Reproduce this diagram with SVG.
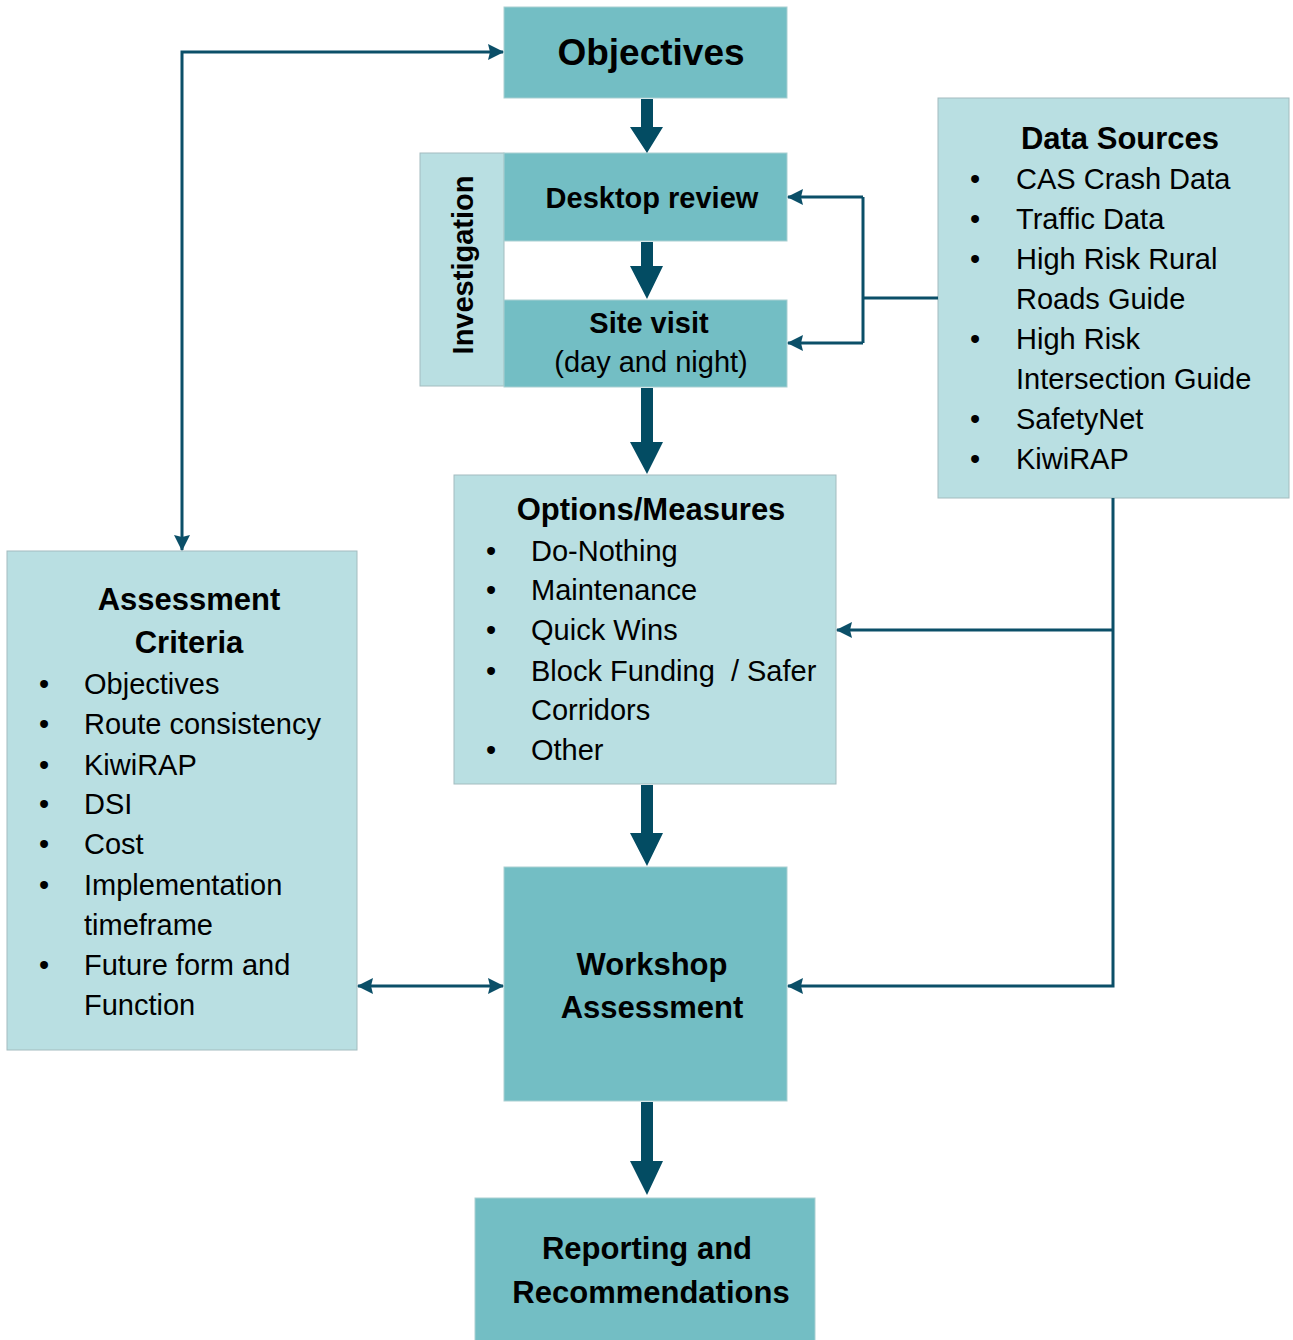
<svg xmlns="http://www.w3.org/2000/svg" width="1293" height="1340" viewBox="0 0 1293 1340">
<defs>
<style>
.dark{fill:#73bec4;stroke:#a9cfd2;stroke-width:1}
.light{fill:#b9dfe2;stroke:#a3bcbf;stroke-width:1}
text{font-family:"Liberation Sans",Arial,sans-serif;fill:#000}
.h{font-weight:bold;font-size:31px}
.hs{font-weight:bold;font-size:29px}
.t{font-size:29px}
.thin{fill:none;stroke:#0b4f68;stroke-width:3}
.thick{fill:#034c63}
</style>
<marker id="ah" viewBox="0 0 16 16" refX="15" refY="8" markerWidth="16" markerHeight="16" markerUnits="userSpaceOnUse" orient="auto-start-reverse">
<path d="M0,0 L16,8 L0,16 L2,8 Z" fill="#0b4f68"/>
</marker>
</defs>
<rect width="1293" height="1340" fill="#fff"/>

<g id="objectives">
<rect class="dark" x="504" y="7" width="283" height="91"/>
<text class="h" x="651" y="65" text-anchor="middle" style="font-size:37px">Objectives</text>
</g>

<g id="investigation">
<rect class="light" x="420" y="153" width="84" height="233"/>
<text class="hs" transform="translate(473,265) rotate(-90)" text-anchor="middle">Investigation</text>
</g>

<g id="desktop-review">
<rect class="dark" x="504" y="153" width="283" height="88"/>
<text class="hs" x="652" y="208" text-anchor="middle">Desktop review</text>
</g>

<g id="site-visit">
<rect class="dark" x="504" y="300" width="283" height="87"/>
<text class="hs" x="649" y="333" text-anchor="middle">Site visit</text>
<text class="t" x="651" y="372" text-anchor="middle">(day and night)</text>
</g>

<g id="data-sources">
<rect class="light" x="938" y="98" width="351" height="400"/>
<text class="h" x="1120" y="149" text-anchor="middle">Data Sources</text>
<text x="975" y="189" text-anchor="middle" class="t">•</text><text x="1016" y="189" class="t">CAS Crash Data</text>
<text x="975" y="229" text-anchor="middle" class="t">•</text><text x="1016" y="229" class="t">Traffic Data</text>
<text x="975" y="269" text-anchor="middle" class="t">•</text><text x="1016" y="269" class="t">High Risk Rural</text>
<text x="1016" y="309" class="t">Roads Guide</text>
<text x="975" y="349" text-anchor="middle" class="t">•</text><text x="1016" y="349" class="t">High Risk</text>
<text x="1016" y="389" class="t">Intersection Guide</text>
<text x="975" y="429" text-anchor="middle" class="t">•</text><text x="1016" y="429" class="t">SafetyNet</text>
<text x="975" y="469" text-anchor="middle" class="t">•</text><text x="1016" y="469" class="t">KiwiRAP</text>
</g>

<g id="options-measures">
<rect class="light" x="454" y="475" width="382" height="309"/>
<text class="h" x="651" y="520" text-anchor="middle">Options/Measures</text>
<text x="491" y="561" text-anchor="middle" class="t">•</text><text x="531" y="561" class="t">Do-Nothing</text>
<text x="491" y="600" text-anchor="middle" class="t">•</text><text x="531" y="600" class="t">Maintenance</text>
<text x="491" y="640" text-anchor="middle" class="t">•</text><text x="531" y="640" class="t">Quick Wins</text>
<text x="491" y="681" text-anchor="middle" class="t">•</text><text x="531" y="681" class="t" xml:space="preserve">Block Funding  / Safer</text>
<text x="531" y="720" class="t">Corridors</text>
<text x="491" y="760" text-anchor="middle" class="t">•</text><text x="531" y="760" class="t">Other</text>
</g>

<g id="assessment-criteria">
<rect class="light" x="7" y="551" width="350" height="499"/>
<text class="h" x="189" y="610" text-anchor="middle">Assessment</text>
<text class="h" x="189" y="653" text-anchor="middle">Criteria</text>
<text x="44" y="694" text-anchor="middle" class="t">•</text><text x="84" y="694" class="t">Objectives</text>
<text x="44" y="734" text-anchor="middle" class="t">•</text><text x="84" y="734" class="t">Route consistency</text>
<text x="44" y="775" text-anchor="middle" class="t">•</text><text x="84" y="775" class="t">KiwiRAP</text>
<text x="44" y="814" text-anchor="middle" class="t">•</text><text x="84" y="814" class="t">DSI</text>
<text x="44" y="854" text-anchor="middle" class="t">•</text><text x="84" y="854" class="t">Cost</text>
<text x="44" y="895" text-anchor="middle" class="t">•</text><text x="84" y="895" class="t">Implementation</text>
<text x="84" y="935" class="t">timeframe</text>
<text x="44" y="975" text-anchor="middle" class="t">•</text><text x="84" y="975" class="t">Future form and</text>
<text x="84" y="1015" class="t">Function</text>
</g>

<g id="workshop-assessment">
<rect class="dark" x="504" y="867" width="283" height="234"/>
<text class="h" x="652" y="975" text-anchor="middle">Workshop</text>
<text class="h" x="652" y="1018" text-anchor="middle">Assessment</text>
</g>

<g id="reporting">
<rect class="dark" x="475" y="1198" width="340" height="150"/>
<text class="h" x="647" y="1259" text-anchor="middle">Reporting and</text>
<text class="h" x="651" y="1303" text-anchor="middle">Recommendations</text>
</g>

<g id="connectors">
<path class="thick" d="M641,99 H653 V127 H663 L647,153 L630,127 H641 Z"/>
<path class="thick" d="M641,242 H653 V266 H663 L647,299 L630,266 H641 Z"/>
<path class="thick" d="M641,388 H653 V442 H663 L647,474 L630,442 H641 Z"/>
<path class="thick" d="M641,785 H653 V833 H663 L647,866 L630,833 H641 Z"/>
<path class="thick" d="M641,1102 H653 V1161 H663 L647,1195 L630,1161 H641 Z"/>
<path class="thin" d="M182,550 V52 H503" marker-start="url(#ah)" marker-end="url(#ah)"/>
<path class="thin" d="M938,298 H863"/>
<path class="thin" d="M863,197 V343"/>
<path class="thin" d="M863,197 H788" marker-end="url(#ah)"/>
<path class="thin" d="M863,343 H788" marker-end="url(#ah)"/>
<path class="thin" d="M1113,498 V986 H788" marker-end="url(#ah)"/>
<path class="thin" d="M1113,630 H837" marker-end="url(#ah)"/>
<path class="thin" d="M358,986 H503" marker-start="url(#ah)" marker-end="url(#ah)"/>
</g>
</svg>
